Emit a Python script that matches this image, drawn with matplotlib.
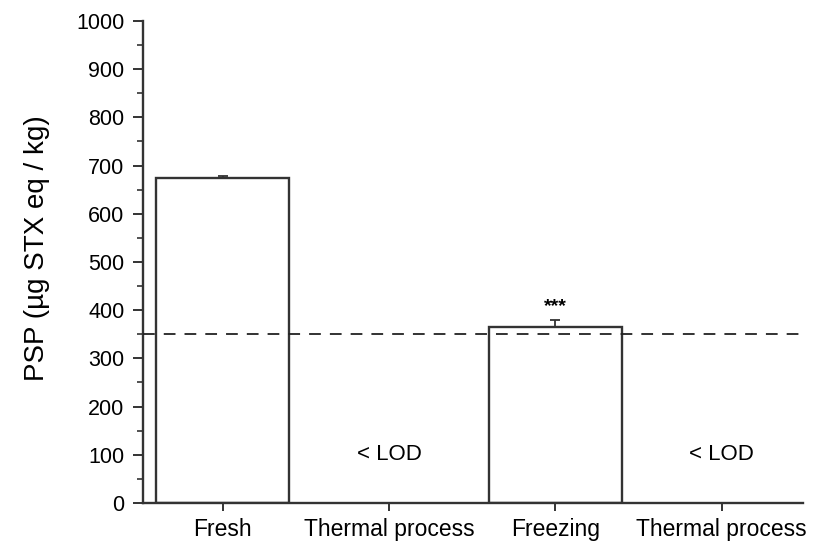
import matplotlib
matplotlib.use("Agg")
import matplotlib.pyplot as plt
from matplotlib.ticker import MultipleLocator

plt.rcParams['font.family'] = ['Liberation Sans', 'DejaVu Sans']

categories = ["Fresh", "Thermal process", "Freezing", "Thermal process"]
psp_values = [675, 0, 366, 0]
psp_errors = [3, 0, 14, 0]
below_lod = [False, True, False, True]
regulatory_limit = 350
significance = {2: "***"}

edge = "#333333"

fig = plt.figure(figsize=(8.23, 5.45), dpi=100)
ax = fig.add_axes([0.1738, 0.0771, 0.802, 0.8844])

x = list(range(len(categories)))
for xi, v, e, lod in zip(x, psp_values, psp_errors, below_lod):
    if lod:
        ax.text(xi, 100, "< LOD", ha="center", va="center", fontsize=16)
        continue
    ax.bar(xi, v, width=0.8, facecolor="white", edgecolor=edge, linewidth=1.7, zorder=2)
    ax.errorbar(xi, v, yerr=[[0], [e]], fmt="none", ecolor=edge,
                elinewidth=1.3, capsize=3.5, capthick=1.3, zorder=3)

for xi, label in significance.items():
    ax.text(xi, psp_values[xi] + psp_errors[xi] + 18, label, ha="center", va="baseline",
            fontsize=14, fontweight="bold")

ax.axhline(regulatory_limit, color="#222222", linestyle=(0, (6.5, 5)), linewidth=1.3, zorder=4)

ax.set_xlim(-0.48, 3.49)
ax.set_ylim(0, 1000)
ax.set_xticks(x)
ax.set_xticklabels(categories, fontsize=16.5)
ax.yaxis.set_major_locator(MultipleLocator(100))
ax.yaxis.set_minor_locator(MultipleLocator(50))
ax.tick_params(axis="y", labelsize=15.5, length=7.5, width=1.4, pad=6, direction="out", color=edge)
ax.tick_params(axis="y", which="minor", length=4, width=1.2, color=edge)
ax.tick_params(axis="x", length=6, width=1.4, color=edge, pad=5)
ax.set_ylabel("PSP (µg STX eq / kg)", fontsize=20)
ax.yaxis.set_label_coords(-0.141, 0.529)

for side in ("top", "right"):
    ax.spines[side].set_visible(False)
for side in ("left", "bottom"):
    ax.spines[side].set_linewidth(1.7)
    ax.spines[side].set_color(edge)

fig.savefig("out.png", dpi=100)
